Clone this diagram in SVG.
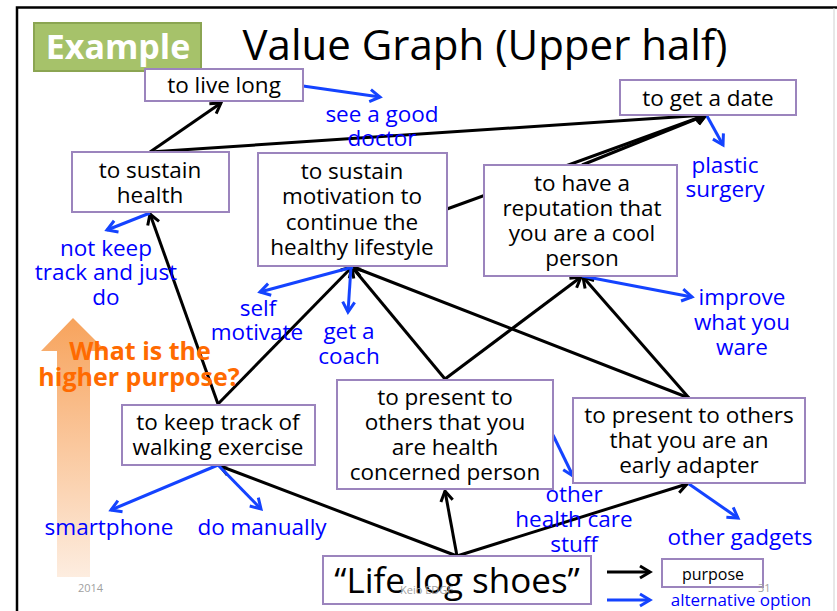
<svg xmlns="http://www.w3.org/2000/svg" width="837" height="611" viewBox="0 0 837 611">
<style>
.box{fill:#fff;stroke:#9b84bd;stroke-width:2}
.t{font-family:"Open Sans","Liberation Sans",sans-serif;font-size:22.5px;fill:#000;text-anchor:middle}
.b{font-family:"Open Sans","Liberation Sans",sans-serif;font-size:22.5px;fill:#0000ff;text-anchor:middle}
.k{fill:none;stroke:#000;stroke-width:3}
.u{fill:none;stroke:#1443ff;stroke-width:3}
.g{font-family:"Open Sans","Liberation Sans",sans-serif;font-size:11px;fill:#a0a0a0}
.q{font-family:"Open Sans","Liberation Sans",sans-serif;font-size:25px;font-weight:bold;fill:#ff6a00;text-anchor:middle}
</style>
<defs>
<marker id="ak" markerUnits="userSpaceOnUse" markerWidth="16" markerHeight="16" viewBox="0 0 16 16" refX="13" refY="8" orient="auto">
<path d="M3,2 L13,8 L3,14" fill="none" stroke="#000" stroke-width="3"/>
</marker>
<marker id="ab" markerUnits="userSpaceOnUse" markerWidth="16" markerHeight="16" viewBox="0 0 16 16" refX="13" refY="8" orient="auto">
<path d="M3,2 L13,8 L3,14" fill="none" stroke="#1443ff" stroke-width="3"/>
</marker>
<linearGradient id="og" x1="0" y1="0" x2="0" y2="1">
<stop offset="0" stop-color="#f7a35c"/>
<stop offset="1" stop-color="#fdede0"/>
</linearGradient>
</defs>
<rect width="837" height="611" fill="#fff"/>
<path d="M17,611 V7.5 H837" fill="none" stroke="#000" stroke-width="2.5"/>
<line x1="834" y1="8" x2="834" y2="611" stroke="#d0d0d0" stroke-width="1"/>

<g id="orange-arrow">
<path d="M57,577 V351 H41 L73,318 L106,351 H90 V577 Z" fill="url(#og)"/>
</g>

<g id="example-badge">
<rect x="34" y="23" width="167" height="48" fill="#a6c26a" stroke="#8ba552" stroke-width="2"/>
<text x="118" y="59" font-family="'Open Sans','Liberation Sans',sans-serif" font-size="34" font-weight="bold" fill="#fff" text-anchor="middle">Example</text>
</g>
<text id="title" x="485" y="60" font-family="'Open Sans','Liberation Sans',sans-serif" font-size="42" fill="#000" text-anchor="middle">Value Graph (Upper half)</text>

<g id="connectors">
<line class="k" x1="150" y1="152" x2="221" y2="103" marker-end="url(#ak)"/>
<line class="k" x1="150" y1="152" x2="706" y2="115" marker-end="url(#ak)"/>
<line class="k" x1="447" y1="209" x2="706" y2="115" marker-end="url(#ak)"/>
<line class="k" x1="582" y1="165" x2="706" y2="115" marker-end="url(#ak)"/>
<line class="k" x1="218" y1="404" x2="150" y2="214" marker-end="url(#ak)"/>
<line class="k" x1="218" y1="404" x2="352" y2="267" marker-end="url(#ak)"/>
<line class="k" x1="445" y1="379" x2="352" y2="267" marker-end="url(#ak)"/>
<line class="k" x1="445" y1="379" x2="581" y2="277" marker-end="url(#ak)"/>
<line class="k" x1="689" y1="398" x2="353" y2="267" marker-end="url(#ak)"/>
<line class="k" x1="689" y1="398" x2="583" y2="277" marker-end="url(#ak)"/>
<line class="k" x1="457" y1="556" x2="220" y2="466" marker-end="url(#ak)"/>
<line class="k" x1="457" y1="556" x2="445" y2="491" marker-end="url(#ak)"/>
<line class="k" x1="457" y1="556" x2="687" y2="484" marker-end="url(#ak)"/>
<line class="u" x1="303" y1="86" x2="380" y2="97" marker-end="url(#ab)"/>
<line class="u" x1="707" y1="116" x2="723" y2="145" marker-end="url(#ab)"/>
<line class="u" x1="150" y1="213" x2="107" y2="230" marker-end="url(#ab)"/>
<line class="u" x1="353" y1="267" x2="260" y2="292" marker-end="url(#ab)"/>
<line class="u" x1="351" y1="267" x2="348" y2="312" marker-end="url(#ab)"/>
<line class="u" x1="582" y1="276" x2="692" y2="297" marker-end="url(#ab)"/>
<line class="u" x1="218" y1="465" x2="111" y2="510" marker-end="url(#ab)"/>
<line class="u" x1="218" y1="465" x2="261" y2="509" marker-end="url(#ab)"/>
<line class="u" x1="553" y1="435" x2="573" y2="476" marker-end="url(#ab)"/>
<line class="u" x1="689" y1="484" x2="738" y2="518" marker-end="url(#ab)"/>
<line class="k" x1="607" y1="572" x2="650" y2="572" marker-end="url(#ak)"/>
<line class="u" x1="607" y1="600" x2="650" y2="600" marker-end="url(#ab)"/>
</g>

<g id="n-live-long">
<rect class="box" x="145" y="69" width="158" height="32"/>
<text class="t" x="224" y="93">to live long</text>
</g>
<g id="n-get-date">
<rect class="box" x="620" y="80" width="176" height="35"/>
<text class="t" x="708" y="106">to get a date</text>
</g>
<g id="n-sustain-health">
<rect class="box" x="72" y="152" width="157" height="60"/>
<text class="t" x="150" y="178">to sustain</text>
<text class="t" x="150" y="203">health</text>
</g>
<g id="n-motivation">
<rect class="box" x="258" y="153" width="189" height="113"/>
<text class="t" x="352" y="179">to sustain</text>
<text class="t" x="352" y="204">motivation to</text>
<text class="t" x="352" y="230">continue the</text>
<text class="t" x="352" y="255">healthy lifestyle</text>
</g>
<g id="n-reputation">
<rect class="box" x="484" y="165" width="193" height="111"/>
<text class="t" x="582" y="191">to have a</text>
<text class="t" x="582" y="216">reputation that</text>
<text class="t" x="582" y="241">you are a cool</text>
<text class="t" x="582" y="266">person</text>
</g>
<g id="n-keep-track">
<rect class="box" x="122" y="405" width="193" height="60"/>
<text class="t" x="218" y="430">to keep track of</text>
<text class="t" x="218" y="455">walking exercise</text>
</g>
<g id="n-health-concerned">
<rect class="box" x="337" y="380" width="216" height="109"/>
<text class="t" x="445" y="405">to present to</text>
<text class="t" x="445" y="430">others that you</text>
<text class="t" x="445" y="455">are health</text>
<text class="t" x="445" y="480">concerned person</text>
</g>
<g id="n-early-adapter">
<rect class="box" x="573" y="398" width="232" height="85"/>
<text class="t" x="689" y="423">to present to others</text>
<text class="t" x="689" y="448">that you are an</text>
<text class="t" x="689" y="473">early adapter</text>
</g>
<g id="n-shoes">
<rect class="box" x="323" y="556" width="268" height="48"/>
<text class="t" x="457" y="593" style="font-size:35px">“Life log shoes”</text>
</g>
<g id="legend-purpose">
<rect class="box" x="662" y="559" width="101" height="28"/>
<text class="t" x="713" y="580" style="font-size:16px">purpose</text>
</g>

<g id="alternatives">
<text class="b" x="382" y="122">see a good</text>
<text class="b" x="382" y="146">doctor</text>
<text class="b" x="725" y="173">plastic</text>
<text class="b" x="725" y="197">surgery</text>
<text class="b" x="106" y="256">not keep</text>
<text class="b" x="106" y="280">track and just</text>
<text class="b" x="106" y="305">do</text>
<text class="b" x="258" y="316">self</text>
<text class="b" x="257" y="340">motivate</text>
<text class="b" x="349" y="339">get a</text>
<text class="b" x="349" y="364">coach</text>
<text class="b" x="742" y="305">improve</text>
<text class="b" x="742" y="330">what you</text>
<text class="b" x="742" y="355">ware</text>
<text class="b" x="109" y="535">smartphone</text>
<text class="b" x="262" y="535">do manually</text>
<text class="b" x="574" y="502">other</text>
<text class="b" x="574" y="527">health care</text>
<text class="b" x="574" y="552">stuff</text>
<text class="b" x="740" y="545">other gadgets</text>
<text class="b" x="741" y="606" style="font-size:17px">alternative option</text>
</g>

<g id="question">
<text class="q" x="140" y="360">What is the</text>
<text class="q" x="139" y="386">higher purpose?</text>
</g>

<g id="footer">
<text class="g" x="78" y="592">2014</text>
<text class="g" x="400" y="594">Keio EDGE</text>
<text class="g" x="758" y="592">31</text>
</g>
</svg>
